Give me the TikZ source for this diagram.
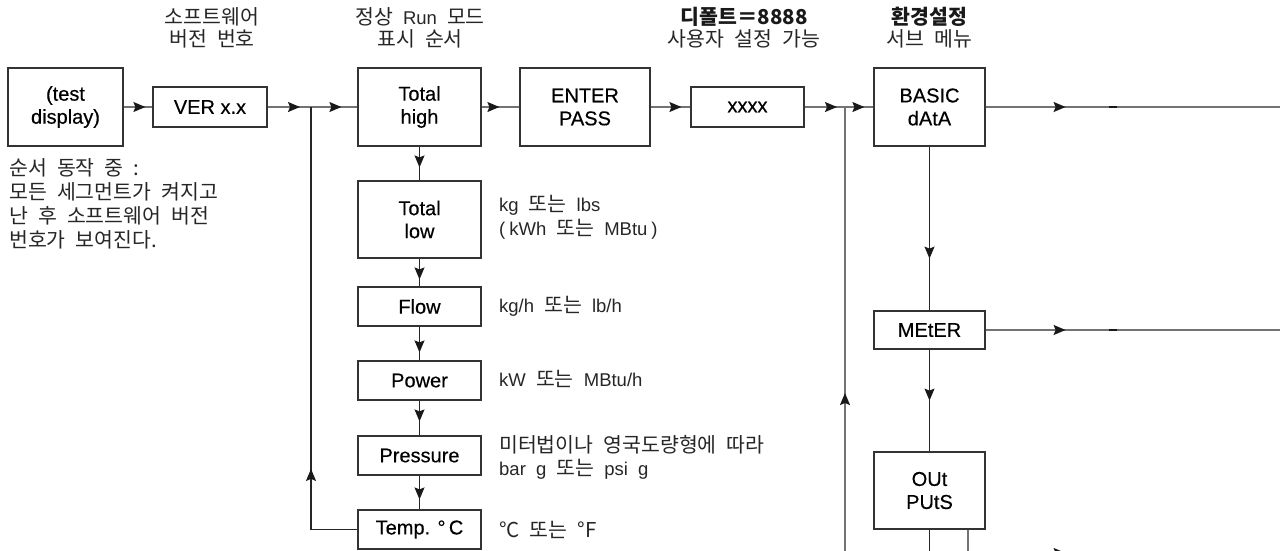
\documentclass[tikz,border=0pt]{standalone}
\usepackage{fontspec}
\setmainfont{Liberation Sans}
\newfontfamily\kr[WordSpace=2.2]{Noto Sans CJK KR}
\newfontfamily\bxf[FakeBold=0.4]{Liberation Sans}
\newfontfamily\ltf{Liberation Sans}
\newcommand\la[1]{{\ltf\fontsize{18.5}{24}\selectfont #1}}
\usetikzlibrary{arrows.meta,decorations.markings}
\tikzset{
  x=1pt,y=-1pt,
  >={Stealth[length=12pt,width=10pt,inset=2pt]},
  box/.style={draw=black!80,line width=1.2pt,inner sep=0pt,align=center,
     font=\bxf\fontsize{20}{23}\selectfont},
  conn/.style={draw=black!55,line width=1.3pt},
  dconn/.style={draw=black!85,line width=1.2pt},
  arr/.style={postaction={decorate},decoration={markings,mark=at position #1 with {\arrow[black!90]{>}}}},
  kt/.style={font=\kr\fontsize{20.5}{24}\selectfont,inner sep=0pt,text=black!85},
  kb/.style={font=\kr\bfseries\fontsize{20.5}{24}\selectfont,inner sep=0pt,text=black!90},
}
\begin{document}
\begin{tikzpicture}
\useasboundingbox (0,0) rectangle (1280,550);
\clip (0,0) rectangle (1280,550);
% boxes
\node[box,minimum width=115pt,minimum height=78pt] (tst) at (65.5,107) {(test\\display)};
\node[box,minimum width=114pt,minimum height=40pt] (ver) at (210,107) {VER x.x};
\node[box,minimum width=123pt,minimum height=78pt] (th) at (419.5,107) {Total\\high};
\node[box,minimum width=123pt,minimum height=77pt] (tl) at (419.5,219.5) {Total\\low};
\node[box,minimum width=123pt,minimum height=39pt] (flow) at (419.5,306.5) {Flow};
\node[box,minimum width=123pt,minimum height=39pt] (power) at (419.5,380.5) {Power};
\node[box,minimum width=123pt,minimum height=39pt] (press) at (419.5,455.5) {Pressure};
\node[box,minimum width=123pt,minimum height=39pt] (temp) at (419.5,529.5) {Temp. °\,C};
\node[box,minimum width=130pt,minimum height=78pt] (enter) at (585,107) {ENTER\\PASS};
\node[box,minimum width=113pt,minimum height=40pt] (xxxx) at (747.5,107) {xxxx};
\node[box,minimum width=111pt,minimum height=78pt] (basic) at (929.5,107) {BASIC\\dAtA};
\node[box,minimum width=111pt,minimum height=38pt] (meter) at (929.5,330) {MEtER};
\node[box,minimum width=111pt,minimum height=77pt] (outp) at (929.5,490.5) {OUt\\PUtS};
% coordinates
\coordinate (j1) at (311,107);
\coordinate (j2) at (845,107);
\coordinate (r0) at (845,560);
\coordinate (e1) at (1290,107);
\coordinate (e2) at (1290,330);
\coordinate (o1) at (929.5,560);
\coordinate (o3) at (1290,553);
% connectors
\draw[conn,arr=-7pt] (tst) -- (ver);
\draw[conn,arr=-11pt] (ver) -- (j1);
\draw[conn,arr=-16pt] (j1) -- (th);
\draw[conn,arr=-20pt] (th) -- (enter);
\draw[conn,arr=-9pt] (enter) -- (xxxx);
\draw[conn,arr=-8pt] (xxxx) -- (j2);
\draw[conn,arr=-9pt] (j2) -- (basic);
\draw[conn,arr=80pt] (basic) -- (e1);
\draw[conn,arr=80pt] (meter) -- (e2);
\draw[black!90,line width=1.4pt] (1109,107) -- (1117,107);
\draw[black!90,line width=1.4pt] (1109,330) -- (1117,330);
\draw[dconn,arr=-13pt] (th) -- (tl);
\draw[dconn,arr=-7pt] (tl) -- (flow);
\draw[dconn,arr=-8pt] (flow) -- (power);
\draw[dconn,arr=-14pt] (power) -- (press);
\draw[dconn,arr=-10pt] (press) -- (temp);
\draw[dconn,arr=107pt] (temp.west) -| (j1);
\draw[conn,arr=167pt] (r0) -- (j2);
\draw[dconn,arr=112pt] (basic) -- (meter);
\draw[dconn,arr=51pt] (meter) -- (outp);
\draw[dconn] (outp) -- (o1);
\draw[conn,arr=121pt] ([xshift=38.5pt]outp.south) |- (o3);
% top labels
\node[kt,anchor=base] (la1) at (212,24) {소프트웨어};
\node[kt,anchor=base] (la2) at (212,46.5) {버전 번호};
\node[kt,anchor=base] (lb1) at (420,24) {정상 \la{Run} 모드};
\node[kt,anchor=base] (lb2) at (420,46.5) {표시 순서};
\node[kb,anchor=base] (lc1) at (744,24) {디폴트＝8888};
\node[kt,anchor=base] (lc2) at (744,46.5) {사용자 설정 가능};
\node[kb,anchor=base] (ld1) at (929.5,24) {환경설정};
\node[kt,anchor=base] (ld2) at (929.5,46.5) {서브 메뉴};
% left note
\node[kt,anchor=base west] (n1) at (9,175) {순서 동작 중 :};
\node[kt,anchor=base west] (n2) at (9,199) {모든 세그먼트가 켜지고};
\node[kt,anchor=base west] (n3) at (9,223) {난 후 소프트웨어 버전};
\node[kt,anchor=base west] (n4) at (9,247) {번호가 보여진다.};
% right notes
\node[kt,anchor=base west] (a1) at (499,211) {\la{kg} 또는 \la{lbs}};
\node[kt,anchor=base west] (a2) at (499,235) {\la{(}\hspace{4pt}\la{kWh} 또는 \la{MBtu}\hspace{4pt}\la{)}};
\node[kt,anchor=base west] (a3) at (499,312) {\la{kg/h} 또는 \la{lb/h}};
\node[kt,anchor=base west] (a4) at (499,386) {\la{kW} 또는 \la{MBtu/h}};
\node[kt,anchor=base west] (a5) at (499,452) {미터법이나 영국도량형에 따라};
\node[kt,anchor=base west] (a6) at (499,475) {\la{bar} \la{g} 또는 \la{psi} \la{g}};
\node[kt,anchor=base west] (a7) at (499,537) {°C 또는 °F};
\end{tikzpicture}
\end{document}
